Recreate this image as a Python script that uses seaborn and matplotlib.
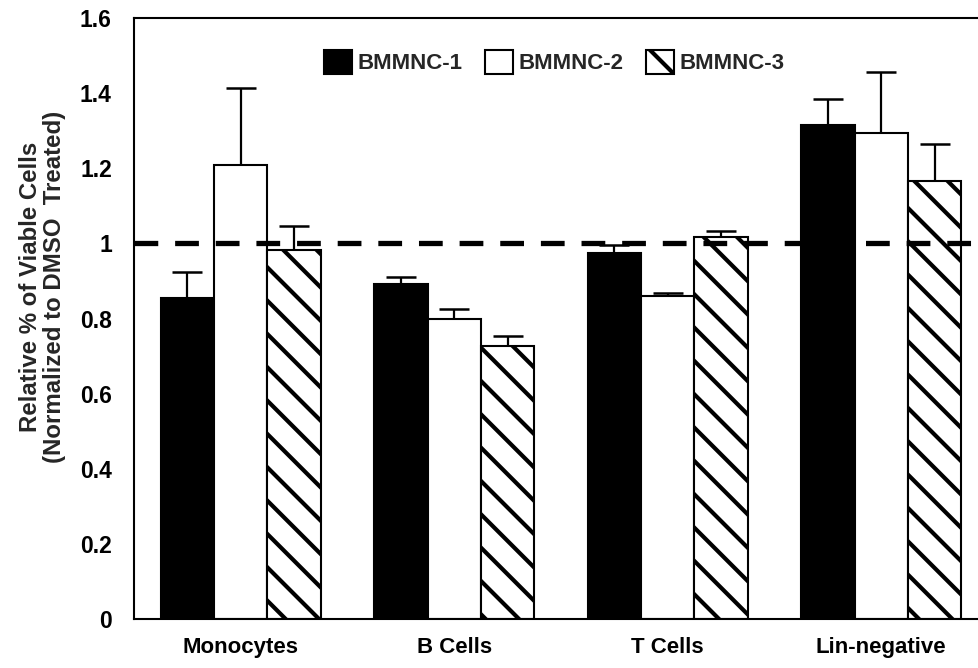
import numpy as np
import pandas as pd
import matplotlib
matplotlib.use("Agg")
import matplotlib.pyplot as plt
import matplotlib.patches as mpatches
import seaborn as sns

categories = ["Monocytes", "B Cells", "T Cells", "Lin-negative"]
series = ["BMMNC-1", "BMMNC-2", "BMMNC-3"]
bmmnc1 = [0.855, 0.891, 0.975, 1.315]
bmmnc2 = [1.209, 0.798, 0.860, 1.293]
bmmnc3 = [0.982, 0.727, 1.018, 1.166]
err1 = [0.070, 0.019, 0.021, 0.070]
err2 = [0.204, 0.027, 0.009, 0.164]
err3 = [0.063, 0.026, 0.015, 0.099]
yticks = [0, 0.2, 0.4, 0.6, 0.8, 1.0, 1.2, 1.4, 1.6]
ytick_labels = ["0", "0.2", "0.4", "0.6", "0.8", "1", "1.2", "1.4", "1.6"]

values = [bmmnc1, bmmnc2, bmmnc3]
errors = [err1, err2, err3]
rows = []
for s, vals in zip(series, values):
    for c, v in zip(categories, vals):
        rows.append({"Cell": c, "Sample": s, "Value": v})
df = pd.DataFrame(rows)

sns.set_theme(style="white")
plt.rcParams["font.family"] = ["Liberation Sans", "DejaVu Sans"]
plt.rcParams["font.weight"] = "bold"
plt.rcParams["hatch.linewidth"] = 3.0
plt.rcParams["hatch.color"] = "black"

fig = plt.figure(figsize=(9.79, 6.68), dpi=100)
ax_w = 4 * 213.5
ax = fig.add_axes([134 / 979, 49 / 668, ax_w / 979, 601 / 668])

facecolors = ["black", "white", "white"]
hatches = ["", "", "\\"]

sns.barplot(data=df, x="Cell", y="Value", hue="Sample", order=categories,
            hue_order=series, palette=facecolors, errorbar=None, width=0.75,
            saturation=1, edgecolor="black", linewidth=1.5, legend=False, ax=ax)

bars = [p for p in ax.patches]
n = len(categories)
for i, s in enumerate(series):
    for j in range(n):
        p = bars[i * n + j]
        p.set_facecolor(facecolors[i])
        p.set_edgecolor("black")
        p.set_linewidth(1.5)
        p.set_hatch(hatches[i])
        p.set_zorder(2)
        xc = p.get_x() + p.get_width() / 2
        ax.errorbar(xc, values[i][j], yerr=[[0], [errors[i][j]]], fmt="none",
                    ecolor="black", elinewidth=1.6, capsize=11, capthick=1.8,
                    zorder=1)

ax.axhline(1.0, color="black", linewidth=3.8, dashes=(4.5, 3.2), zorder=3)

ax.set_xlim(-0.5, 3.5)
ax.set_ylim(0, 1.6)
ax.set_yticks(yticks)
ax.set_yticklabels(ytick_labels, fontsize=16.5, fontweight="bold")
ax.set_xticks(range(n))
ax.set_xticklabels(categories, fontsize=16, fontweight="bold")
ax.tick_params(axis="both", length=0, colors="black")
ax.tick_params(axis="y", pad=16)
ax.tick_params(axis="x", pad=13)
ax.set_xlabel("")
ax.set_ylabel("Relative % of Viable Cells\n(Normalized to DMSO  Treated)",
              fontsize=17.3, fontweight="bold", linespacing=1.05)
ax.yaxis.set_label_coords((66 - 134) / ax_w, (619 - 287) / 601)

for side in ["left", "bottom", "top", "right"]:
    ax.spines[side].set_color("black")
    ax.spines[side].set_linewidth(1.5)
    ax.spines[side].set_visible(True)

handles = [mpatches.Patch(facecolor=facecolors[i], edgecolor="black",
                          linewidth=1.5, hatch=hatches[i], label=series[i])
           for i in range(3)]
leg = fig.legend(handles=handles, loc="center", bbox_to_anchor=(554 / 979, 1 - 62 / 668),
                 ncol=3, frameon=False, handlelength=1.3, handleheight=1.35,
                 handletextpad=0.22, columnspacing=1.0,
                 prop={"size": 16, "weight": "bold"})

fig.savefig("out.png", dpi=100)
